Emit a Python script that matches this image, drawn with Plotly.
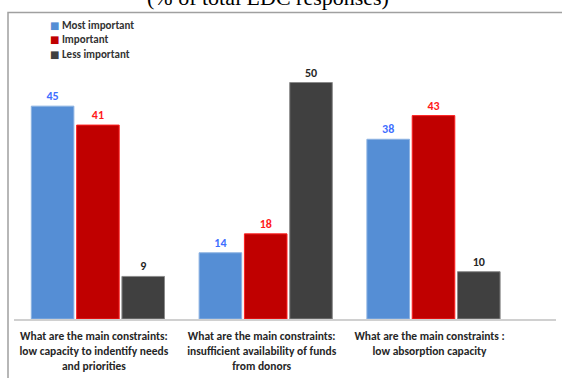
import plotly.graph_objects as go

categories = [
    "What are the main constraints:<br>low capacity to indentify needs<br>and priorities",
    "What are the main constraints:<br>insufficient availability of funds<br>from donors",
    "What are the main constraints :<br>low absorption capacity",
]
series_names = ["Most important", "Important", "Less important"]
most_important = [45, 14, 38]
important = [41, 18, 43]
less_important = [9, 50, 10]

values = [most_important, important, less_important]
fill_colors = ["#558ED5", "#C00000", "#404040"]
line_colors = ["#8DB3E2", "#FF2020", "#8A8A8A"]
label_colors = ["#3F6FFF", "#FF1A1A", "#262626"]

W, H = 562, 378
ml, mr, mt, mb = 14, 6, 13, 59
PW = W - ml - mr
PH = H - mt - mb

FONT = "Carlito, Calibri, Lato, Roboto, sans-serif"

fig = go.Figure()
x_idx = list(range(len(categories)))
for name, vals, fc, lc, tc in zip(series_names, values, fill_colors, line_colors, label_colors):
    fig.add_trace(go.Bar(
        x=x_idx, y=vals, name=name,
        marker=dict(color=fc, line=dict(color=lc, width=1)),
        text=[str(v) for v in vals], textposition="outside",
        textfont=dict(family=FONT, size=12, color=tc, weight="bold"),
        cliponaxis=False, showlegend=False,
    ))

legend_text = "<br>".join(
    f"<span style='color:{c};font-family:DejaVu Sans;font-size:10px'>■</span> {n}"
    for n, c in zip(series_names, fill_colors)
)

fig.update_layout(
    width=W, height=H,
    margin=dict(l=ml, r=mr, t=mt, b=mb, autoexpand=False),
    paper_bgcolor="white", plot_bgcolor="white",
    barmode="group", bargap=0.19, bargroupgap=0.06,
    font=dict(family=FONT, color="#333333"),
    showlegend=False,
    xaxis=dict(
        tickmode="array", tickvals=x_idx, ticktext=categories,
        range=[-0.5, 2.73], showline=True, linecolor="#D0D0D0", linewidth=1.5,
        showgrid=False, zeroline=False, ticks="", automargin=False,
        ticklabelstandoff=6, ticklabelshift=-4,
        tickfont=dict(family=FONT, size=11.5, color="#262626", weight="bold"),
        fixedrange=True,
    ),
    yaxis=dict(
        range=[0, PH / 4.73], visible=False, showgrid=False, zeroline=False,
        fixedrange=True, automargin=False,
    ),
    annotations=[
        dict(
            text="(% of total LDC responses)", showarrow=False,
            font=dict(family="Liberation Serif, Times New Roman, serif", size=22, color="black"),
            xref="paper", yref="paper", x=(268 - ml) / PW, xanchor="center",
            y=1 + 1 / PH, yanchor="bottom",
        ),
        dict(
            text=legend_text, showarrow=False, align="left",
            font=dict(family=FONT, size=11, color="#333333", weight="bold"),
            xref="paper", yref="paper", x=(48 - ml) / PW, xanchor="left",
            y=1 - 4 / PH, yanchor="top",
        ),
    ],
    shapes=[dict(
        type="rect", xref="paper", yref="paper",
        x0=(8 - ml) / PW, x1=1.05,
        y0=-0.3, y1=1 + 0.5 / PH,
        line=dict(color="#A0A0A0", width=1.5), fillcolor="rgba(0,0,0,0)", layer="below",
    )],
)

fig.write_html(
    "out.html",
    config={"displayModeBar": False, "staticPlot": True},
    post_script="document.body.style.margin='0';document.body.style.overflow='hidden';",
)
